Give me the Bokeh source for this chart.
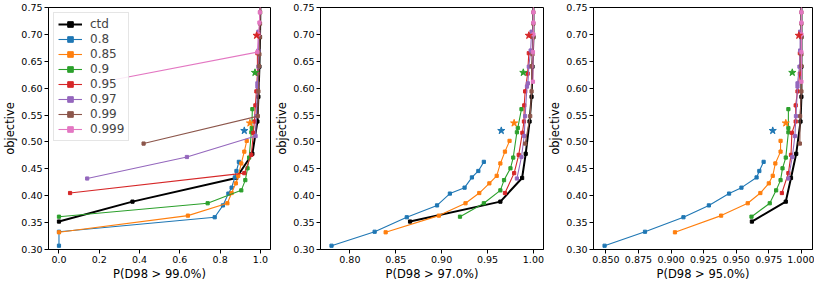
from bokeh.plotting import figure
from bokeh.layouts import row
from bokeh.models import Range1d, FixedTicker, Legend, LegendItem, NumeralTickFormatter
from bokeh.embed import file_html
from bokeh.resources import INLINE

# ---------------- data ----------------
SERIES = ["ctd", "0.8", "0.85", "0.9", "0.95", "0.97", "0.99", "0.999"]

Y_CTD = [0.352, 0.389, 0.433, 0.478, 0.538, 0.584, 0.640, 0.695, 0.760]
X99_CTD = [0.0, 0.365, 0.88, 0.96, 0.985, 0.99, 0.995, 0.998, 1.0]
X97_CTD = [0.8656, 0.964, 0.9877, 0.9916, 0.9958, 0.998, 0.999, 1.0, 1.0]
X95_CTD = [0.962, 0.988, 0.992, 0.996, 0.9993, 1.0, 1.0, 1.0, 1.0]

Y_080 = [0.307, 0.333, 0.360, 0.382, 0.404, 0.415, 0.434, 0.446, 0.463]
X99_080 = [0.0, 0.0, 0.773, 0.814, 0.841, 0.857, 0.873, 0.881, 0.893]
X97_080 = [0.780, 0.827, 0.862, 0.895, 0.909, 0.925, 0.933, 0.940, 0.946]
X95_080 = [0.849, 0.880, 0.9095, 0.929, 0.9445, 0.954, 0.9656, 0.9677, 0.971]

Y_085 = [0.332, 0.363, 0.386, 0.405, 0.423, 0.437, 0.460, 0.482, 0.502]
X99_085 = [0.0, 0.64, 0.836, 0.857, 0.878, 0.89, 0.905, 0.92, 0.932]
X97_085 = [0.839, 0.897, 0.926, 0.941, 0.952, 0.960, 0.964, 0.969, 0.974]
X95_085 = [0.903, 0.9384, 0.9588, 0.9685, 0.975, 0.978, 0.980, 0.984, 0.984]

Y_090 = [0.361, 0.386, 0.410, 0.429, 0.451, 0.471, 0.518, 0.526, 0.561]
X99_090 = [0.0, 0.738, 0.905, 0.925, 0.936, 0.944, 0.955, 0.957, 0.96]
X97_090 = [0.920, 0.946, 0.964, 0.968, 0.975, 0.978, 0.982, 0.983, 0.987]
X95_090 = [0.9617, 0.9757, 0.9806, 0.984, 0.9855, 0.988, 0.990, 0.990, 0.990]

Y_095 = [0.405, 0.442, 0.476, 0.517, 0.538, 0.568, 0.594, 0.627, 0.665]
X99_095 = [0.055, 0.92, 0.955, 0.965, 0.97, 0.975, 0.98, 0.985, 0.985]
X97_095 = [0.969, 0.979, 0.984, 0.988, 0.9897, 0.990, 0.991, 0.9937, 0.995]
X95_095 = [0.985, 0.990, 0.992, 0.9927, 0.9956, 0.9956, 0.997, 0.9988, 0.9988]

Y_097 = [0.432, 0.472, 0.511, 0.548, 0.603, 0.609, 0.640, 0.670, 0.705]
X99_097 = [0.14, 0.635, 0.976, 0.98, 0.985, 0.985, 0.99, 0.99, 0.99]
X97_097 = [0.982, 0.987, 0.990, 0.991, 0.993, 0.994, 0.995, 0.997, 0.998]
X95_097 = [0.990, 0.993, 0.995, 0.9958, 0.997, 0.997, 0.9985, 0.999, 0.999]

Y_099 = [0.497, 0.548, 0.594, 0.641, 0.663, 0.695, 0.720, 0.741, 0.760]
X99_099 = [0.42, 0.987, 0.99, 0.993, 0.995, 0.997, 0.998, 0.999, 1.0]
X97_099 = [0.991, 0.9965, 0.998, 0.998, 0.999, 1.0, 1.0, 1.0, 1.0]
X95_099 = [0.9988, 0.999, 1.0, 1.0, 1.0, 1.0, 1.0, 1.0, 1.0]

Y_0999 = [0.612, 0.667, 0.700, 0.722, 0.741, 0.760]
X99_0999 = [0.22, 0.985, 0.99, 0.995, 0.997, 1.0]
X97_0999 = [0.9995, 0.9995, 1.0, 1.0, 1.0, 1.0]
X95_0999 = [1.0, 1.0, 1.0, 1.0, 1.0, 1.0]

STAR_SERIES = ["0.8", "0.85", "0.9", "0.95"]
STAR_Y = [0.521, 0.535, 0.629, 0.698]
STAR_X99 = [0.92, 0.948, 0.973, 0.981]
STAR_X97 = [0.965, 0.979, 0.989, 0.995]
STAR_X95 = [0.978, 0.988, 0.993, 0.998]

Y_TICKS = [0.30, 0.35, 0.40, 0.45, 0.50, 0.55, 0.60, 0.65, 0.70, 0.75]
X99_TICKS = [0.0, 0.2, 0.4, 0.6, 0.8, 1.0]
X97_TICKS = [0.80, 0.85, 0.90, 0.95, 1.00]
X95_TICKS = [0.850, 0.875, 0.900, 0.925, 0.950, 0.975, 1.000]

COLORS = ["black", "#1f77b4", "#ff7f0e", "#2ca02c", "#d62728", "#9467bd", "#8c564b", "#e377c2"]
FONT = "DejaVu Sans"

YS = [Y_CTD, Y_080, Y_085, Y_090, Y_095, Y_097, Y_099, Y_0999]
X99S = [X99_CTD, X99_080, X99_085, X99_090, X99_095, X99_097, X99_099, X99_0999]
X97S = [X97_CTD, X97_080, X97_085, X97_090, X97_095, X97_097, X97_099, X97_0999]
X95S = [X95_CTD, X95_080, X95_085, X95_090, X95_095, X95_097, X95_099, X95_0999]


def make_panel(xs_list, star_x, xlabel, xr, xticks, xfmt, width, with_legend):
    p = figure(width=width, height=283, output_backend="svg", toolbar_location=None,
               x_range=Range1d(*xr), y_range=Range1d(0.30, 0.75),
               min_border_top=7, min_border_right=2, min_border_bottom=0, min_border_left=0)
    p.background_fill_color = "white"
    p.border_fill_color = "white"
    p.outline_line_color = "black"
    p.outline_line_width = 1
    p.xgrid.visible = False
    p.ygrid.visible = False
    for ax in (p.xaxis[0], p.yaxis[0]):
        ax.axis_line_color = "black"
        ax.major_tick_in = 0
        ax.major_tick_out = 4
        ax.minor_tick_in = 0
        ax.minor_tick_out = 0
        ax.major_label_text_font = FONT
        ax.major_label_text_font_size = "9.5px"
        ax.major_label_text_color = "black"
        ax.axis_label_text_font = FONT
        ax.axis_label_text_font_size = "11.5px"
        ax.axis_label_text_font_style = "normal"
        ax.axis_label_text_color = "black"
        ax.major_label_standoff = 2
        ax.axis_label_standoff = 1
    p.xaxis.ticker = FixedTicker(ticks=xticks)
    p.xaxis.formatter = NumeralTickFormatter(format=xfmt)
    p.yaxis.ticker = FixedTicker(ticks=Y_TICKS)
    p.yaxis.formatter = NumeralTickFormatter(format="0.00")
    p.xaxis.axis_label = xlabel
    p.yaxis.axis_label = "objective"

    items = []
    for name, color, xs, ys in zip(SERIES, COLORS, xs_list, YS):
        lw = 2.0 if name == "ctd" else 1.1
        ln = p.line(xs, ys, line_color=color, line_width=lw)
        sc = p.scatter(xs, ys, marker="square", size=3.2, fill_color=color, line_color=color)
        items.append(LegendItem(label=name, renderers=[ln, sc]))

    for name, sx, sy in zip(STAR_SERIES, star_x, STAR_Y):
        color = COLORS[SERIES.index(name)]
        p.scatter([sx], [sy], marker="star", size=7.5, fill_color=color, line_color=color)

    if with_legend:
        leg = Legend(items=items, location="top_left")
        leg.label_text_font = FONT
        leg.label_text_font_size = "12px"
        leg.glyph_width = 24
        leg.glyph_height = 14
        leg.label_height = 14
        leg.label_standoff = 8
        leg.spacing = 1
        leg.padding = 4
        leg.margin = 5
        leg.border_line_color = "#cccccc"
        leg.background_fill_alpha = 0.85
        p.add_layout(leg)
    return p


p1 = make_panel(X99S, STAR_X99, "P(D98 > 99.0%)", (-0.052, 1.05), X99_TICKS, "0.0", 272, True)
p2 = make_panel(X97S, STAR_X97, "P(D98 > 97.0%)", (0.768, 1.011), X97_TICKS, "0.00", 273, False)
p3 = make_panel(X95S, STAR_X95, "P(D98 > 95.0%)", (0.8405, 1.0085), X95_TICKS, "0.000", 269, False)

layout = row(p1, p2, p3)
open("out.html", "w").write(file_html(layout, INLINE))
